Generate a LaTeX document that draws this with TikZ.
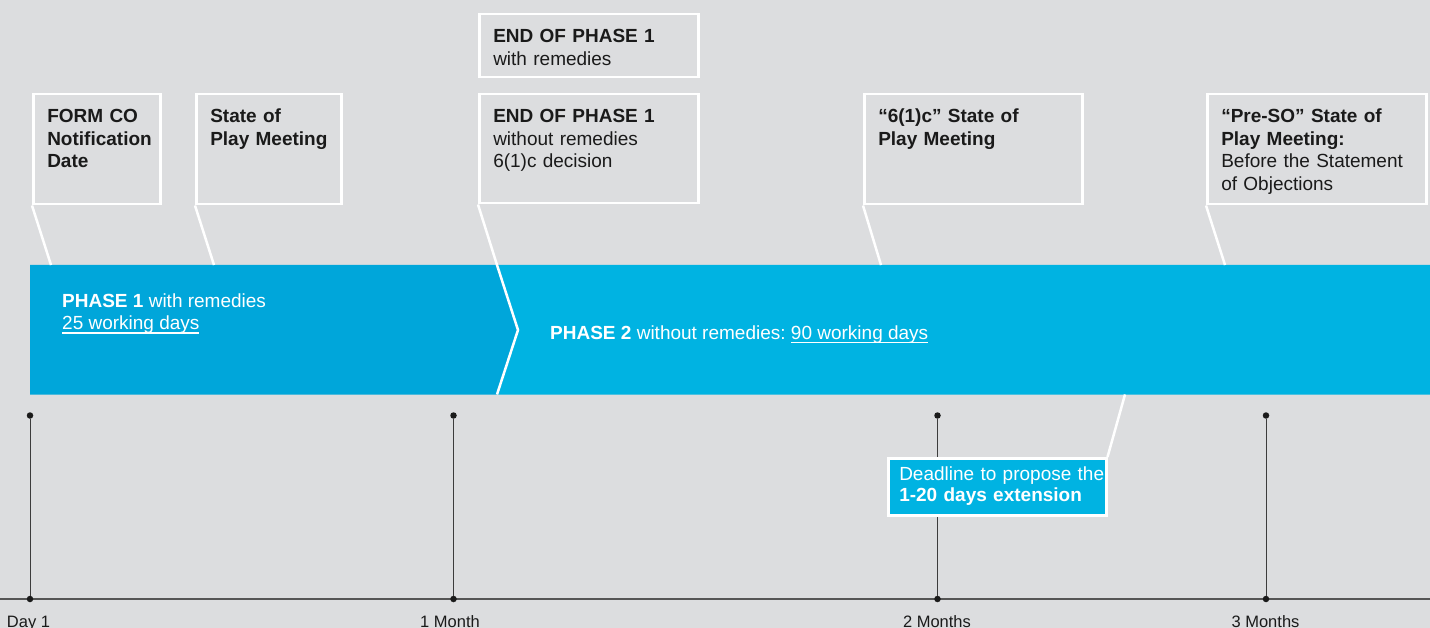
\documentclass[tikz,border=0pt]{standalone}
\usepackage{fontspec}
\setmainfont{Liberation Sans}
\usetikzlibrary{positioning}

\definecolor{bggray}{HTML}{DCDDDF}
\definecolor{phaseone}{HTML}{00A6DA}
\definecolor{phasetwo}{HTML}{00B3E2}
\definecolor{inkgray}{HTML}{1A1A1A}
\definecolor{axisgray}{HTML}{555555}

\newcommand{\ulined}[1]{\leavevmode\setbox0\hbox{#1}\rlap{\rule[-3.6pt]{\wd0}{1.2pt}}\box0}

\tikzset{
  callout/.style={draw=white, line width=2.5, fill=bggray, anchor=north west,
    align=left, inner xsep=14, inner ysep=14, text height=14.5, text=inkgray,
    font=\fontsize{19}{22.5}\selectfont\frenchspacing},
  leader/.style={draw=white, line width=2.5},
  bandtext/.style={text=white, anchor=base west, inner sep=0, align=left,
    font=\fontsize{19}{22}\selectfont\frenchspacing},
  dot/.style={circle, fill=inkgray, inner sep=0, minimum size=6.5},
  tickline/.style={draw=axisgray!70!black, line width=1},
  axisline/.style={draw=axisgray, line width=1.5},
  monthlabel/.style={anchor=base, text=inkgray, inner sep=0,
    font=\fontsize{16.5}{18}\selectfont}
}

\begin{document}
\begin{tikzpicture}[x=1pt, y=-1pt]

  \fill [bggray] (0,0) rectangle (1430,628);
  \useasboundingbox (0,0) rectangle (1430,628);

  % band corners and chevron
  \coordinate (bandNW) at (30,265);
  \coordinate (bandSW) at (30,394.5);
  \coordinate (bandNE) at (1430,265);
  \coordinate (bandSE) at (1430,394.5);
  \coordinate (chevTop) at (497,265);
  \coordinate (chevTip) at (518,330);
  \coordinate (chevBot) at (497,394.5);

  \fill [phaseone] (bandNW) -- (chevTop) -- (chevTip) -- (chevBot) -- (bandSW) -- cycle;
  \fill [phasetwo] (chevTop) -- (bandNE) -- (bandSE) -- (chevBot) -- (chevTip) -- cycle;

  \node [bandtext] (phaseonetext) at (62,330)
    {\textbf{PHASE 1} with remedies\\\ulined{25 working days}};
  \node [bandtext] (phasetwotext) at (550,339.5)
    {\textbf{PHASE 2} without remedies: \ulined{90 working days}};

  % feet of the leaders on the band
  \coordinate (formcoFoot) at (51,265);
  \coordinate (playFoot) at (214,265);
  \coordinate (sixcFoot) at (881,265);
  \coordinate (presoFoot) at (1225,265);
  \coordinate (extFoot) at (1125,394.5);

  % callouts above the band
  \node [callout, text width=99, text depth=67.5] (formco) at (32,93)
    {\textbf{FORM CO}\\\textbf{Notification}\\\textbf{Date}};
  \node [callout, text width=117, text depth=67.5] (play) at (195,93)
    {\textbf{State of}\\\mbox{\textbf{Play Meeting}}};
  \node [callout, text width=191, text depth=20.5] (endwith) at (478,13)
    {\textbf{END OF PHASE 1}\\with remedies};
  \node [callout, text width=191, text depth=66.5] (endwithout) at (478,93)
    {\textbf{END OF PHASE 1}\\without remedies\\6(1)c decision};
  \node [callout, text width=190, text depth=67.5] (sixc) at (863,93)
    {\textbf{“6(1)c” State of}\\\textbf{Play Meeting}};
  \node [callout, text width=191, text depth=67.5] (preso) at (1206,93)
    {\textbf{“Pre-SO” State of}\\\textbf{Play Meeting:}\\Before the Statement\\of Objections};

  \draw [leader] (formco.south west) -- (formcoFoot);
  \draw [leader] (play.south west) -- (playFoot);
  \draw [leader] (endwithout.south west) -- (chevTop) -- (chevTip) -- (chevBot);
  \draw [leader] (sixc.south west) -- (sixcFoot);
  \draw [leader] (preso.south west) -- (presoFoot);

  % time axis
  \coordinate (axisL) at (0,599);
  \coordinate (axisR) at (1430,599);
  \draw [axisline] (axisL) -- (axisR);

  \node [dot] (dayonetop) at (30,415.5) {};
  \node [dot] (dayone) at (30,599) {};
  \node [dot] (monthonetop) at (453.5,415.5) {};
  \node [dot] (monthone) at (453.5,599) {};
  \node [dot] (monthtwotop) at (937.5,415.5) {};
  \node [dot] (monthtwo) at (937.5,599) {};
  \node [dot] (monththreetop) at (1266,415.5) {};
  \node [dot] (monththree) at (1266,599) {};

  \draw [tickline] (dayonetop) -- (dayone);
  \draw [tickline] (monthonetop) -- (monthone);
  \draw [tickline] (monthtwotop) -- (monthtwo);
  \draw [tickline] (monththreetop) -- (monththree);

  \node [monthlabel] (dayonelab) at (28.5,627) {Day 1};
  \node [monthlabel] (monthonelab) at (450,627) {1 Month};
  \node [monthlabel] (monthtwolab) at (937,627) {2 Months};
  \node [monthlabel] (monththreelab) at (1265.5,627) {3 Months};

  % extension deadline
  \node [callout, fill=phasetwo, text=white, inner xsep=11, inner ysep=8,
    text height=14.7, text depth=26.3, text width=196,
    font=\fontsize{19}{21}\selectfont] (deadline) at (887,457)
    {\mbox{Deadline to propose the}\\\textbf{1-20 days extension}};
  \draw [leader] (deadline.north east) -- (extFoot);

\end{tikzpicture}
\end{document}
